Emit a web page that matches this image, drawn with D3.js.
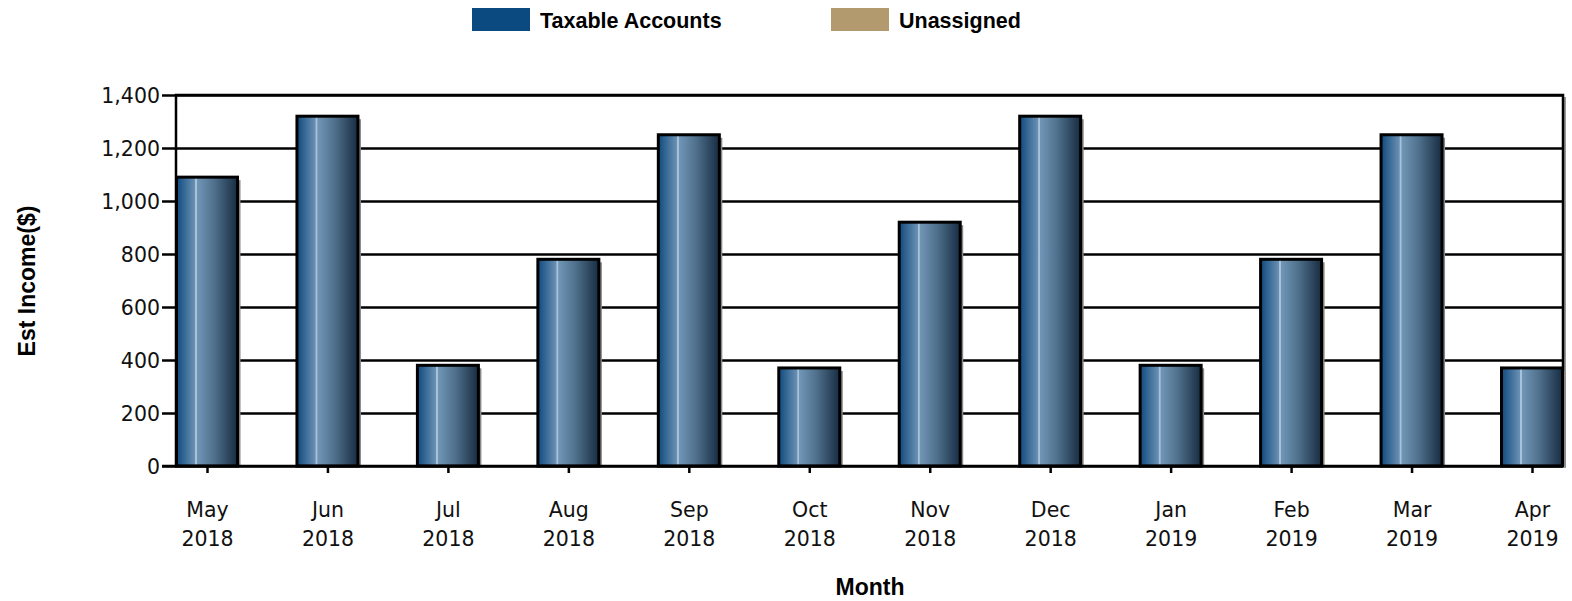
<!DOCTYPE html>
<html>
<head>
<meta charset="utf-8">
<script src="https://cdn.jsdelivr.net/npm/d3@7"></script>
<style>
  body { margin: 0; background: #fff; }
  .tick text, .xlab { font-family: "DejaVu Sans", Verdana, sans-serif; font-size: 20.5px; fill: #111; }
  .lbl { font-family: "Liberation Sans", Arial, sans-serif; font-weight: bold; font-size: 23px; fill: #000; }
</style>
</head>
<body>
<script>
var months = ["May 2018","Jun 2018","Jul 2018","Aug 2018","Sep 2018","Oct 2018","Nov 2018","Dec 2018","Jan 2019","Feb 2019","Mar 2019","Apr 2019"];
var taxable = [1090, 1320, 380, 780, 1250, 370, 920, 1320, 380, 780, 1250, 370];
var yTicks = [0, 200, 400, 600, 800, 1000, 1200, 1400];
var legendNames = ["Taxable Accounts", "Unassigned"];
var legendColors = ["#0b4a80", "#b39a6e"];

var W = 1572, H = 601;
var margin = {top: 95, right: 9, bottom: 135, left: 176},
    width = W - margin.left - margin.right,
    height = H - margin.top - margin.bottom;

var svg = d3.select("body").append("svg")
    .attr("width", W)
    .attr("height", H);

var defs = svg.append("defs");
var grad = defs.append("linearGradient")
    .attr("id", "barGrad")
    .attr("x1", "0%").attr("x2", "100%").attr("y1", "0%").attr("y2", "0%");
[["0%", "#0f4a7e"], ["30%", "#6a90b3"], ["31%", "#a8c2d9"], ["33%", "#a8c2d9"], ["34%", "#7096b7"], ["60%", "#52738f"], ["100%", "#172c42"]]
  .forEach(function(s) { grad.append("stop").attr("offset", s[0]).attr("stop-color", s[1]); });

var g = svg.append("g")
    .attr("transform", "translate(" + margin.left + "," + margin.top + ")");

var x = d3.scalePoint()
    .domain(months)
    .range([31, width - 31]);
var barW = 61;

var y = d3.scaleLinear()
    .domain([0, 1400])
    .range([height, 0]);

// gridlines + y ticks
var yAxis = d3.axisLeft(y)
    .tickValues(yTicks)
    .tickSize(-width - 14)
    .tickFormat(d3.format(","))
    .tickPadding(4);

var yg = g.append("g")
    .attr("class", "y axis")
    .attr("transform", "translate(-14,0)")
    .call(yAxis);
yg.select(".domain").remove();
yg.selectAll(".tick line")
    .attr("stroke", "#000")
    .attr("stroke-width", 2.5);
yg.selectAll(".tick text").attr("x", -2).attr("dy", "0.36em");

// plot border (top, right, left)
g.append("line").attr("x1", width + 2).attr("x2", width + 2).attr("y1", 2).attr("y2", height + 2)
    .attr("stroke", "#999").attr("stroke-width", 2);
g.append("path")
    .attr("d", "M0," + height + "V0H" + width + "V" + height)
    .attr("fill", "none")
    .attr("stroke", "#000")
    .attr("stroke-width", 2.5);

// bars
var data = months.map(function(m, i) { return {month: m, val: taxable[i]}; });

g.selectAll(".shadow")
    .data(data)
  .enter().append("rect")
    .attr("class", "shadow")
    .attr("x", function(d) { return x(d.month) - barW / 2 + 3; })
    .attr("y", function(d) { return y(d.val) + 3; })
    .attr("width", barW)
    .attr("height", function(d) { return height - y(d.val) - 3; })
    .attr("fill", "#888");

g.selectAll(".bar")
    .data(data)
  .enter().append("rect")
    .attr("class", "bar")
    .attr("x", function(d) { return x(d.month) - barW / 2; })
    .attr("y", function(d) { return y(d.val); })
    .attr("width", barW)
    .attr("height", function(d) { return height - y(d.val); })
    .attr("fill", "url(#barGrad)")
    .attr("stroke", "#000")
    .attr("stroke-width", 3);

// baseline
g.append("line")
    .attr("x1", -14).attr("x2", width)
    .attr("y1", height).attr("y2", height)
    .attr("stroke", "#000").attr("stroke-width", 2.5);

// x axis
var xAxis = d3.axisBottom(x)
    .tickSize(7)
    .tickFormat("");
var xg = g.append("g")
    .attr("class", "x axis")
    .attr("transform", "translate(0," + height + ")")
    .call(xAxis);
xg.select(".domain").remove();
xg.selectAll(".tick text").remove();
xg.selectAll(".tick line").attr("stroke", "#000").attr("stroke-width", 2.5);
xg.selectAll(".tick").each(function(d) {
  var t = d3.select(this), parts = d.split(" ");
  t.append("text").attr("class", "xlab").attr("text-anchor", "middle").attr("y", 51).text(parts[0]);
  t.append("text").attr("class", "xlab").attr("text-anchor", "middle").attr("y", 80).text(parts[1]);
});

// axis titles
svg.append("text")
    .attr("class", "lbl")
    .attr("x", 870)
    .attr("y", 595)
    .attr("text-anchor", "middle")
    .text("Month");

svg.append("text")
    .attr("class", "lbl")
    .attr("transform", "translate(35,281) rotate(-90)")
    .attr("text-anchor", "middle")
    .text("Est Income($)");

// legend
var legX = d3.scalePoint().domain(legendNames).range([472, 831]);
var leg = svg.selectAll(".legend")
    .data(legendNames)
  .enter().append("g")
    .attr("class", "legend")
    .attr("transform", function(d) { return "translate(" + legX(d) + ",8)"; });
leg.append("rect")
    .attr("width", 58)
    .attr("height", 23)
    .attr("fill", function(d, i) { return legendColors[i]; });
leg.append("text")
    .attr("class", "lbl")
    .style("font-size", "21.5px")
    .attr("x", 68)
    .attr("y", 20)
    .text(function(d) { return d; });
</script>
</body>
</html>
